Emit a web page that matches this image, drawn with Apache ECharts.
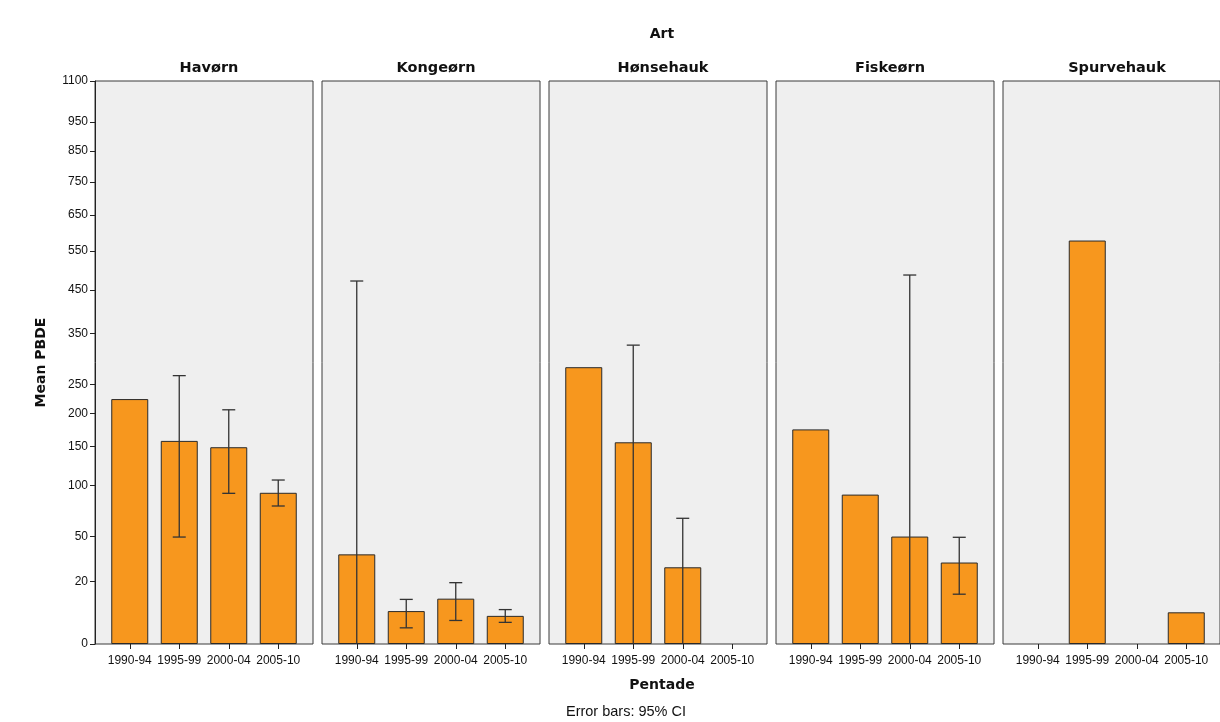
<!DOCTYPE html>
<html>
<head>
<meta charset="utf-8">
<script src="https://cdn.jsdelivr.net/npm/echarts@6/dist/echarts.min.js"></script>
<style>html,body{margin:0;padding:0;background:#fff;}#c{width:1220px;height:722px;}</style>
</head>
<body>
<div id="c"></div>
<script>
// ---- data ----
const pentades = ['1990-94', '1995-99', '2000-04', '2005-10'];
const species = ['Havørn', 'Kongeørn', 'Hønsehauk', 'Fiskeørn', 'Spurvehauk'];
const yTicks = [0, 20, 50, 100, 150, 200, 250, 350, 450, 550, 650, 750, 850, 950, 1100];

const meanHavorn     = [224, 158, 149, 92];
const meanKongeorn   = [36.5, 7.3, 11.9, 5.8];
const meanHonsehauk  = [282, 156, 28, null];
const meanFiskeorn   = [175, 90, 50, 31];
const meanSpurvehauk = [null, 578, null, 6.9];

// 95% CI bounds (0 = lower bound below zero, clipped)
const ciLowHavorn     = [null, 49.6, 91.4, 78];
const ciHighHavorn    = [null, 266, 206, 106.6];
const ciLowKongeorn   = [0, 2.7, 4.5, 4.0];
const ciHighKongeorn  = [472, 11.6, 19.3, 7.8];
const ciLowHonsehauk  = [null, 0, 0, null];
const ciHighHonsehauk = [null, 326, 66, null];
const ciLowFiskeorn   = [null, null, 0, 13.8];
const ciHighFiskeorn  = [null, null, 487, 49.4];
const ciLowSpurvehauk  = [null, null, null, null];
const ciHighSpurvehauk = [null, null, null, null];

const means = [meanHavorn, meanKongeorn, meanHonsehauk, meanFiskeorn, meanSpurvehauk];
const ciLows = [ciLowHavorn, ciLowKongeorn, ciLowHonsehauk, ciLowFiskeorn, ciLowSpurvehauk];
const ciHighs = [ciHighHavorn, ciHighKongeorn, ciHighHonsehauk, ciHighFiskeorn, ciHighSpurvehauk];

// ---- square-root scale (offset 1) ----
const T = v => (v == null ? null : Math.sqrt(v + 1) - 1);
const Tinv = t => (t + 1) * (t + 1) - 1;
const yMax = T(1100);

// ---- layout ----
const panelLeft0 = 95, panelStep = 227, panelW = 218, pad = 10;
const gridTop = 81, gridH = 563;

const grid = [], xAxis = [], yAxis = [], series = [], title = [];
const boldFont = 'DejaVu Sans';
const normFont = 'Liberation Sans';

species.forEach((sp, i) => {
  const left = panelLeft0 + i * panelStep;
  grid.push({ left: left, top: gridTop, width: panelW, height: gridH, show: true,
    backgroundColor: '#efefef', borderColor: '#3a3a3a', borderWidth: 1 });
  grid.push({ left: left + pad, top: gridTop, width: panelW - 2 * pad, height: gridH, show: false });

  xAxis.push({ type: 'value', gridIndex: 2 * i, min: 0, max: 1, show: false });
  yAxis.push({
    type: 'value', gridIndex: 2 * i, min: 0, max: yMax, show: i === 0,
    splitLine: { show: false },
    axisLine: { show: true, lineStyle: { color: '#222', width: 1 } },
    axisTick: { show: true, length: 5, lineStyle: { color: '#222' }, customValues: yTicks.map(T) },
    axisLabel: { show: true, fontFamily: normFont, fontSize: 12, color: '#111', margin: 7,
      customValues: yTicks.map(T), formatter: v => String(Math.round(Tinv(v))) },
    name: i === 0 ? 'Mean PBDE' : '', nameLocation: 'middle', nameRotate: 90, nameGap: 47,
    nameTextStyle: { fontFamily: boldFont, fontWeight: 'bold', fontSize: 14, color: '#111' }
  });

  xAxis.push({
    type: 'category', gridIndex: 2 * i + 1, data: pentades, boundaryGap: true,
    axisLine: { show: false },
    axisTick: { show: true, alignWithLabel: true, length: 5, lineStyle: { color: '#222' } },
    axisLabel: { interval: 0, fontFamily: normFont, fontSize: 12, color: '#111', margin: 11 },
    splitLine: { show: false }
  });
  yAxis.push({ type: 'value', gridIndex: 2 * i + 1, min: 0, max: yMax, show: false, splitLine: { show: false } });

  series.push({
    type: 'bar', xAxisIndex: 2 * i + 1, yAxisIndex: 2 * i + 1, barWidth: 37,
    data: means[i].map(T),
    itemStyle: { color: '#f7971e', borderColor: '#2a2a2a', borderWidth: 1 },
    silent: true, animation: false
  });

  const errData = [];
  pentades.forEach((p, k) => {
    if (ciHighs[i][k] != null) errData.push([k, T(ciLows[i][k]), T(ciHighs[i][k]), ciLows[i][k] > 0 ? 1 : 0]);
  });
  series.push({
    type: 'custom', xAxisIndex: 2 * i + 1, yAxisIndex: 2 * i + 1, z: 5, animation: false, silent: true,
    data: errData,
    renderItem: (params, api) => {
      const x = api.value(0);
      const top = api.coord([x, api.value(2)]);
      const bot = api.coord([x, api.value(1)]);
      const cap = 6.5;
      const st = { stroke: '#333', lineWidth: 1.3 };
      const children = [
        { type: 'line', shape: { x1: top[0], y1: top[1], x2: bot[0], y2: bot[1] }, style: st },
        { type: 'line', shape: { x1: top[0] - cap, y1: top[1], x2: top[0] + cap, y2: top[1] }, style: st }
      ];
      if (api.value(3)) children.push({ type: 'line', shape: { x1: bot[0] - cap, y1: bot[1], x2: bot[0] + cap, y2: bot[1] }, style: st });
      return { type: 'group', children };
    }
  });

  title.push({ text: sp, left: left + panelW / 2, top: 56, textAlign: 'center',
    textStyle: { fontFamily: boldFont, fontWeight: 'bold', fontSize: 14.5, color: '#111' } });
});

title.push({ text: 'Art', left: 657, top: 22, textAlign: 'center',
  textStyle: { fontFamily: boldFont, fontWeight: 'bold', fontSize: 14, color: '#111' } });
title.push({ text: 'Pentade', left: 657, top: 673, textAlign: 'center',
  textStyle: { fontFamily: boldFont, fontWeight: 'bold', fontSize: 14, color: '#111' } });
title.push({ text: 'Error bars: 95% CI', left: 621, top: 699, textAlign: 'center',
  textStyle: { fontFamily: normFont, fontWeight: 'normal', fontSize: 14.5, color: '#111' } });

const chart = echarts.init(document.getElementById('c'), null, { renderer: 'canvas' });
chart.setOption({ animation: false, backgroundColor: '#ffffff', title, grid, xAxis, yAxis, series });
</script>
</body>
</html>
